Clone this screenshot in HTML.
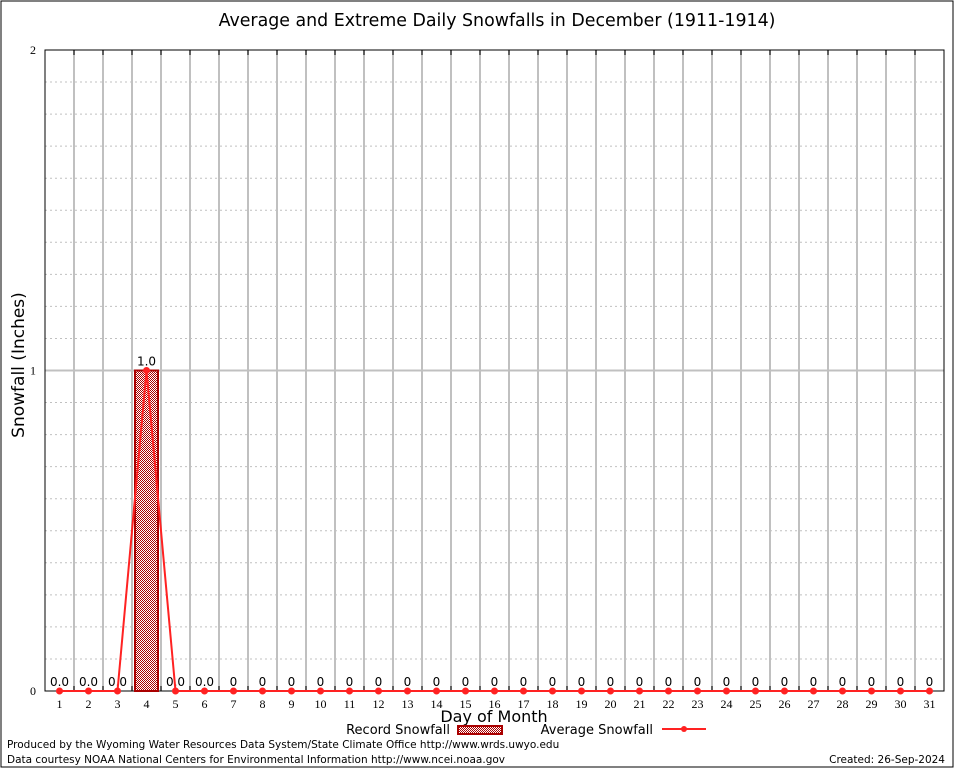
<!DOCTYPE html>
<html><head><meta charset="utf-8"><style>
body{margin:0;background:#fff}
svg{display:block;font-family:"DejaVu Sans","Liberation Sans",sans-serif}
</style></head><body>
<svg id="c" width="954" height="768" viewBox="0 0 954 768">
<defs><pattern id="pat" width="2" height="2" patternUnits="userSpaceOnUse"><rect width="2" height="2" fill="#fff"/><rect width="1" height="1" fill="#a00"/><rect x="1" y="1" width="1" height="1" fill="#a00"/></pattern></defs>
<rect x="1" y="1" width="952" height="766" fill="none" stroke="#000"/>
<text x="497" y="26" text-anchor="middle" font-size="17.4">Average and Extreme Daily Snowfalls in December (1911-1914)</text>
<g id="grid"></g><g id="marks"></g>
<text transform="translate(24,365) rotate(-90)" text-anchor="middle" font-size="17">Snowfall (Inches)</text>
<text x="494" y="722" text-anchor="middle" font-size="16">Day of Month</text>
<g>
<text x="450" y="734" text-anchor="end" font-size="13">Record Snowfall</text>
<rect x="458" y="726" width="44" height="8" fill="url(#pat)" stroke="#a00" stroke-width="2"/>
<text x="653" y="734" text-anchor="end" font-size="13">Average Snowfall</text>
<line x1="662" y1="729" x2="706" y2="729" stroke="#f22" stroke-width="2"/>
<circle cx="684" cy="729" r="3" fill="#f22"/>
</g>
<text x="7" y="748" font-size="10.5">Produced by the Wyoming Water Resources Data System/State Climate Office http://www.wrds.uwyo.edu</text>
<text x="7" y="763" font-size="10.5">Data courtesy NOAA National Centers for Environmental Information http://www.ncei.noaa.gov</text>
<text x="945" y="763" text-anchor="end" font-size="10.5">Created: 26-Sep-2024</text>
</svg>
<script>
const days=[1,2,3,4,5,6,7,8,9,10,11,12,13,14,15,16,17,18,19,20,21,22,23,24,25,26,27,28,29,30,31];
const recordVals=[0,0,0,1.0,0,0,0,0,0,0,0,0,0,0,0,0,0,0,0,0,0,0,0,0,0,0,0,0,0,0,0];
const avgVals=[0,0,0,1.0,0,0,0,0,0,0,0,0,0,0,0,0,0,0,0,0,0,0,0,0,0,0,0,0,0,0,0];
const barLabels=["0.0","0.0","0.0","1.0","0.0","0.0","0","0","0","0","0","0","0","0","0","0","0","0","0","0","0","0","0","0","0","0","0","0","0","0","0"];
const yTicks=[0,1,2];
const X0=45,X1=944,Y0=691,Y1=50,YMAX=2;
const slot=(X1-X0)/days.length;
const xs=d=>X0+slot*(d-0.5);
const ys=v=>Y0-(Y0-Y1)*v/YMAX;
const NS="http://www.w3.org/2000/svg";
function mk(t,a,p){const e=document.createElementNS(NS,t);for(const k in a)e.setAttribute(k,a[k]);p.appendChild(e);return e;}
const g=document.getElementById('grid'),m=document.getElementById('marks');
for(let i=1;i<YMAX*10;i++){if(i%10===0)continue;const y=ys(i/10);
const l=mk('line',{x1:X0,x2:X1,y1:y,y2:y,stroke:'#c0c0c0','stroke-dasharray':'2,3'},g);

}
for(let i=1;i<days.length;i++){const x=X0+slot*i;
const l=mk('line',{x1:x,x2:x,y1:Y1,y2:Y0,stroke:'#c0c0c0','stroke-width':2},g);


const tk=mk('line',{x1:x,x2:x,y1:Y1,y2:Y1+5,stroke:'#000'},g);


const tb=mk('line',{x1:x,x2:x,y1:Y0,y2:Y0-5,stroke:'#000'},g);

}
yTicks.forEach(v=>{const y=ys(v);
if(v>0&&v<YMAX){const l=mk('line',{x1:X0,x2:X1,y1:y,y2:y,stroke:'#c0c0c0','stroke-width':2},g);

}
const t=mk('text',{x:X0-9,y:y+4,'text-anchor':'end','font-size':12,'font-family':'Liberation Serif,serif'},g);t.textContent=v;

});
const fr=mk('rect',{x:X0,y:Y1,width:X1-X0,height:Y0-Y1,fill:'none',stroke:'#000'},g);


days.forEach((d,i)=>{
const t=mk('text',{x:xs(d),y:Y0+17,'text-anchor':'middle','font-size':12,'font-family':'Liberation Serif,serif'},g);t.textContent=d;


const v=recordVals[i];
if(v>0){const r=mk('rect',{x:xs(d)-11.5,y:ys(v),width:23,height:Y0-ys(v),fill:'url(#pat)',stroke:'#a00','stroke-width':2},m);

}
const lb=mk('text',{x:xs(d),y:ys(v)-5,'text-anchor':'middle','font-size':12},m);lb.textContent=barLabels[i];

});
const pl=mk('polyline',{points:days.map((d,i)=>xs(d)+','+ys(avgVals[i])).join(' '),fill:'none',stroke:'#f22','stroke-width':2},m);


days.forEach((d,i)=>{const c=mk('circle',{cx:xs(d),cy:ys(avgVals[i]),r:3.5,fill:'#f22'},m);

});
</script>
</body></html>
